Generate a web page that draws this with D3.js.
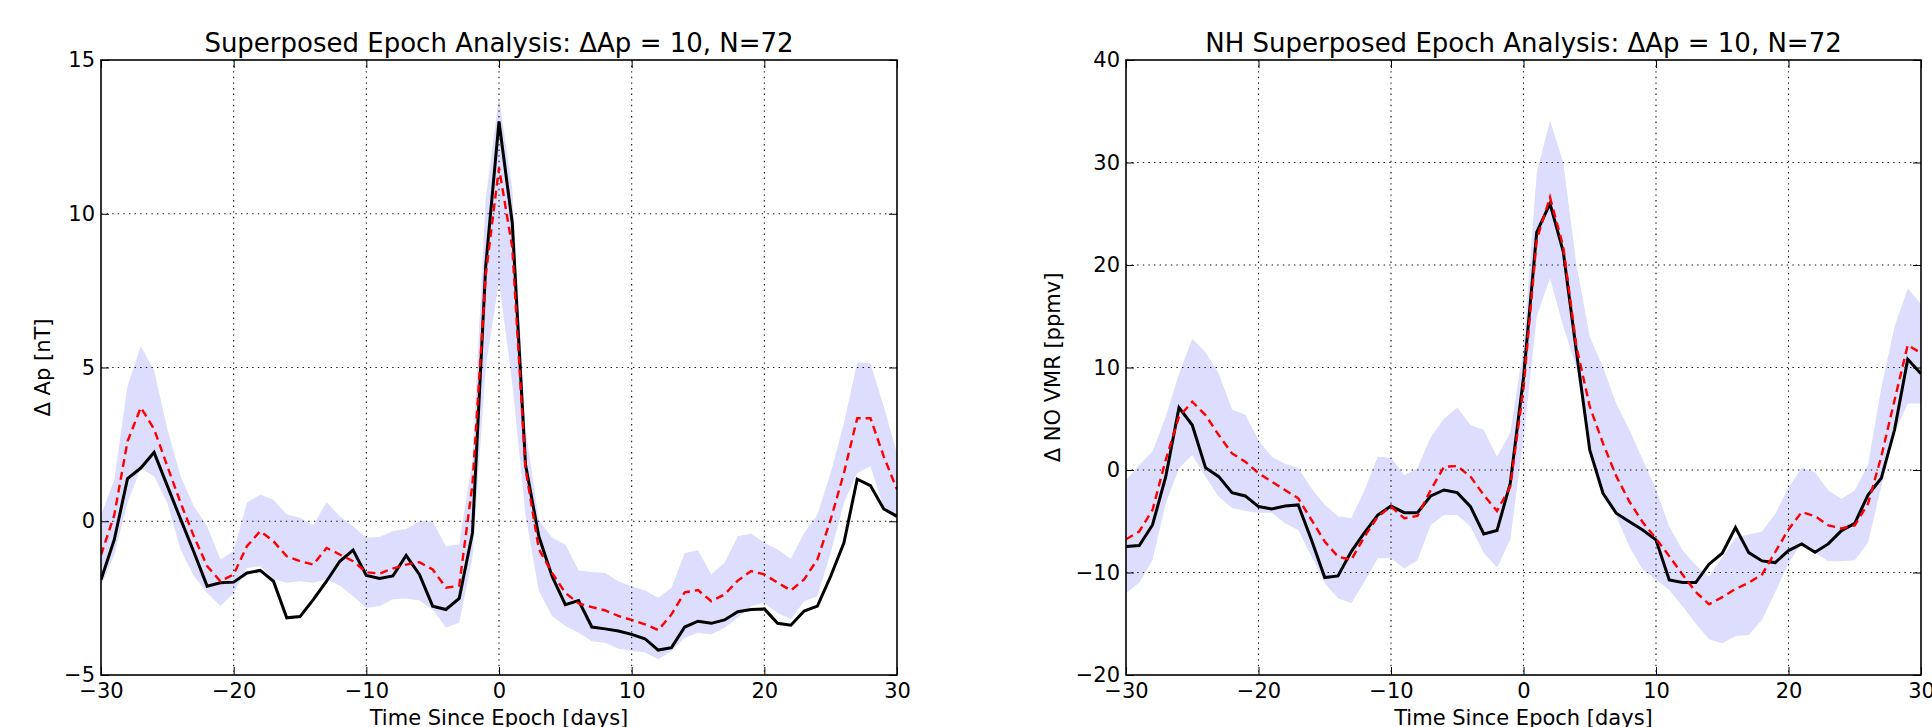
<!DOCTYPE html>
<html>
<head>
<meta charset="utf-8">
<script src="https://cdn.jsdelivr.net/npm/d3@7"></script>
<style>
  body { margin: 0; background: #fff; }
  text { font-family: "DejaVu Sans", sans-serif; fill: #000; }
</style>
</head>
<body>
<div id="chart"></div>
<script>
// days since epoch
var days = d3.range(-30, 31);

// left panel: delta Ap [nT]
var apBlack = [-1.9,-0.6,1.39,1.73,2.24,1.15,0.07,-1.0,-2.11,-2.0,-1.98,-1.68,-1.6,-1.95,-3.14,-3.1,-2.55,-1.95,-1.3,-0.94,
  -1.76,-1.86,-1.78,-1.11,-1.73,-2.76,-2.87,-2.51,-0.38,8.3,13.0,9.7,1.84,-0.49,-1.79,-2.71,-2.58,-3.44,-3.5,-3.57,
  -3.68,-3.82,-4.19,-4.11,-3.44,-3.25,-3.32,-3.21,-2.94,-2.87,-2.85,-3.32,-3.38,-2.92,-2.76,-1.79,-0.7,1.37,1.16,0.4,0.16];
var apRed = [-1.1,0.2,2.6,3.7,3.0,1.79,0.6,-0.49,-1.46,-1.95,-1.73,-0.81,-0.32,-0.65,-1.14,-1.3,-1.41,-0.87,-1.08,-1.3,
  -1.66,-1.7,-1.54,-1.41,-1.33,-1.57,-2.16,-2.1,1.2,8.0,11.5,8.9,1.7,-0.9,-1.68,-2.33,-2.67,-2.79,-2.9,-3.08,
  -3.21,-3.35,-3.54,-3.03,-2.31,-2.24,-2.6,-2.38,-1.93,-1.62,-1.73,-2.0,-2.25,-1.89,-1.24,0.05,1.57,3.35,3.35,2.11,1.03];
var apUpper = [0.2,1.35,4.4,5.7,4.9,3.0,1.46,0.49,-0.16,-1.24,-0.97,0.6,0.87,0.7,0.22,0.11,-0.13,0.62,0.16,-0.16,
  -0.54,-0.51,-0.32,-0.25,0.0,0.0,-0.81,-0.76,2.0,10.5,13.8,10.8,3.0,0.05,-0.54,-0.76,-1.6,-1.65,-1.68,-1.95,
  -2.11,-2.25,-2.49,-2.16,-1.03,-0.94,-1.73,-1.35,-0.49,-0.4,-0.7,-0.92,-1.22,-0.38,0.22,1.57,3.19,5.16,5.14,3.73,2.2];
var apLower = [-2.1,-1.1,0.6,1.73,1.46,0.6,-0.92,-1.79,-2.33,-2.76,-2.33,-1.52,-1.46,-1.89,-2.0,-1.95,-2.0,-1.89,-2.09,-2.44,
  -2.81,-2.76,-2.54,-2.51,-2.58,-2.87,-3.46,-3.3,-1.2,5.0,7.8,4.5,0.2,-2.26,-3.08,-3.41,-3.63,-3.9,-3.95,-4.15,
  -4.22,-4.27,-4.49,-4.22,-3.79,-3.63,-3.68,-3.46,-3.14,-2.76,-2.65,-2.98,-3.19,-2.6,-2.44,-1.03,0.6,1.57,1.79,0.43,0.05];

// right panel: delta NO VMR [ppmv]
var noBlack = [-7.47,-7.37,-5.36,-0.65,6.1,4.39,0.23,-0.65,-2.21,-2.53,-3.57,-3.8,-3.51,-3.41,-6.82,-10.49,-10.33,-7.96,-6.1,-4.39,
  -3.51,-4.16,-4.16,-2.53,-1.95,-2.21,-3.57,-6.24,-5.91,-1.3,9.0,23.2,26.0,21.3,11.5,1.95,-2.27,-4.22,-5.04,-5.85,
  -6.82,-10.72,-10.98,-10.98,-9.19,-8.12,-5.62,-8.06,-8.87,-9.03,-7.86,-7.21,-8.02,-7.21,-5.91,-5.2,-2.44,-0.81,3.9,10.8,9.4];
var noRed = [-6.76,-6.0,-3.9,1.0,5.2,6.66,5.36,3.41,1.62,0.81,-0.32,-1.14,-1.95,-2.76,-4.87,-6.98,-8.45,-8.77,-6.5,-4.55,
  -3.57,-4.71,-4.48,-1.95,0.32,0.39,-0.65,-2.44,-4.0,-1.62,8.0,22.5,26.6,21.8,12.0,6.2,2.6,-0.6,-3.1,-5.1,
  -6.7,-8.4,-10.2,-11.9,-13.1,-12.4,-11.6,-11.0,-10.2,-8.0,-5.8,-4.1,-4.5,-5.4,-5.7,-5.4,-3.3,1.3,6.8,12.2,11.4];
var noUpper = [-1.0,0.5,1.8,5.2,9.4,12.8,11.5,9.4,5.9,5.4,2.9,1.3,0.6,0.2,-1.8,-3.4,-4.5,-4.7,-2.0,1.3,
  1.2,-0.5,0.2,3.2,5.0,6.1,4.4,3.9,1.3,3.6,12.0,29.0,34.1,30.0,20.0,13.0,10.0,6.5,3.9,1.0,
  -1.9,-5.5,-7.8,-9.3,-10.4,-8.5,-6.6,-6.3,-6.0,-4.3,-1.7,0.2,-0.2,-2.0,-2.8,-2.0,0.5,8.0,14.0,17.7,16.2];
var noLower = [-12.0,-11.0,-8.8,-3.25,0.16,1.46,-0.65,-2.6,-3.7,-4.0,-4.16,-4.16,-5.2,-5.85,-8.45,-11.05,-12.5,-13.0,-10.9,-8.6,
  -8.6,-9.6,-8.8,-5.36,-4.4,-4.4,-5.5,-8.1,-9.5,-6.8,3.0,15.0,18.7,14.0,10.0,2.5,-1.95,-4.5,-7.5,-9.7,
  -10.7,-11.7,-13.3,-15.0,-16.5,-16.9,-16.2,-16.1,-14.6,-11.9,-9.1,-7.1,-8.1,-8.9,-8.9,-8.8,-7.1,-1.6,3.6,6.5,6.5];

var xTicks = [-30, -20, -10, 0, 10, 20, 30];
var apTicks = [-5, 0, 5, 10, 15];
var noTicks = [-20, -10, 0, 10, 20, 30, 40];

var svg = d3.select('#chart').append('svg')
  .attr('width', 1932).attr('height', 727)
  .style('display', 'block');

function drawPanel(opt) {
  var w = opt.right - opt.left, h = 615;
  var g = svg.append('g').attr('transform', 'translate(' + opt.left + ',60)');

  var x = d3.scaleLinear().domain([-30, 30]).range([0, w]);
  var y = d3.scaleLinear().domain(opt.yDomain).range([h, 0]);

  g.append('clipPath').attr('id', opt.id + '-clip')
    .append('rect').attr('width', w).attr('height', h);

  var plot = g.append('g').attr('clip-path', 'url(#' + opt.id + '-clip)');

  var rows = days.map(function(d, i) {
    return {day: d, black: opt.black[i], red: opt.red[i], upper: opt.upper[i], lower: opt.lower[i]};
  });

  var band = d3.area()
    .x(function(d) { return x(d.day); })
    .y0(function(d) { return y(d.lower); })
    .y1(function(d) { return y(d.upper); });

  plot.append('path').datum(rows)
    .attr('d', band)
    .attr('fill', 'rgb(221,221,253)');

  var redLine = d3.line().x(function(d) { return x(d.day); }).y(function(d) { return y(d.red); });
  var blackLine = d3.line().x(function(d) { return x(d.day); }).y(function(d) { return y(d.black); });

  plot.append('path').datum(rows)
    .attr('d', blackLine)
    .attr('fill', 'none').attr('stroke', '#000').attr('stroke-width', 3)
    .attr('stroke-linejoin', 'miter');

  plot.append('path').datum(rows)
    .attr('d', redLine)
    .attr('fill', 'none').attr('stroke', '#ff0000').attr('stroke-width', 2.4)
    .attr('stroke-dasharray', '8,5');

  // dotted grid on top, like matplotlib
  g.append('g').selectAll('line.vg')
    .data(xTicks.slice(1, -1)).enter().append('line')
    .attr('x1', function(d) { return x(d); }).attr('x2', function(d) { return x(d); })
    .attr('y1', 0).attr('y2', h)
    .attr('stroke', '#111').attr('stroke-width', 1.1).attr('stroke-dasharray', '1.4,4.2');
  g.append('g').selectAll('line.hg')
    .data(opt.yTicks.slice(1, -1)).enter().append('line')
    .attr('y1', function(d) { return y(d); }).attr('y2', function(d) { return y(d); })
    .attr('x1', 0).attr('x2', w)
    .attr('stroke', '#111').attr('stroke-width', 1.1).attr('stroke-dasharray', '1.4,4.2');

  var bottom = g.append('g').attr('transform', 'translate(0,' + h + ')')
    .call(d3.axisBottom(x).tickValues(xTicks).tickSizeInner(-8).tickSizeOuter(0).tickPadding(8));
  var left = g.append('g')
    .call(d3.axisLeft(y).tickValues(opt.yTicks).tickSizeInner(-8).tickSizeOuter(0).tickPadding(6));
  var top = g.append('g')
    .call(d3.axisTop(x).tickValues(xTicks).tickSizeInner(-8).tickSizeOuter(0).tickFormat(''));
  var rightAx = g.append('g').attr('transform', 'translate(' + w + ',0)')
    .call(d3.axisRight(y).tickValues(opt.yTicks).tickSizeInner(-8).tickSizeOuter(0).tickFormat(''));

  [bottom, left, top, rightAx].forEach(function(a) {
    a.select('.domain').remove();
    a.selectAll('line').attr('stroke', '#000').attr('stroke-width', 1);
    a.selectAll('text').style('font-family', '"DejaVu Sans", sans-serif').style('font-size', '21px').attr('fill', '#000');
  });

  g.append('rect').attr('width', w).attr('height', h)
    .attr('fill', 'none').attr('stroke', '#000').attr('stroke-width', 1.6);

  g.append('text')
    .attr('x', w / 2).attr('y', -8)
    .attr('text-anchor', 'middle')
    .style('font-size', '26px')
    .text(opt.title);

  g.append('text')
    .attr('x', w / 2).attr('y', h + 50)
    .attr('text-anchor', 'middle')
    .style('font-size', '21px')
    .text('Time Since Epoch [days]');

  g.append('text')
    .attr('transform', 'translate(' + (opt.labelX - opt.left) + ',' + (h / 2) + ') rotate(-90)')
    .attr('text-anchor', 'middle')
    .style('font-size', '21px')
    .text(opt.yLabel);
}

drawPanel({
  id: 'ap', left: 101, right: 897, yDomain: [-5, 15], yTicks: apTicks,
  black: apBlack, red: apRed, upper: apUpper, lower: apLower,
  title: 'Superposed Epoch Analysis: \u0394Ap = 10, N=72',
  yLabel: '\u0394 Ap [nT]', labelX: 50
});

drawPanel({
  id: 'no', left: 1126, right: 1921, yDomain: [-20, 40], yTicks: noTicks,
  black: noBlack, red: noRed, upper: noUpper, lower: noLower,
  title: 'NH Superposed Epoch Analysis: \u0394Ap = 10, N=72',
  yLabel: '\u0394 NO VMR [ppmv]', labelX: 1060
});
</script>
</body>
</html>
